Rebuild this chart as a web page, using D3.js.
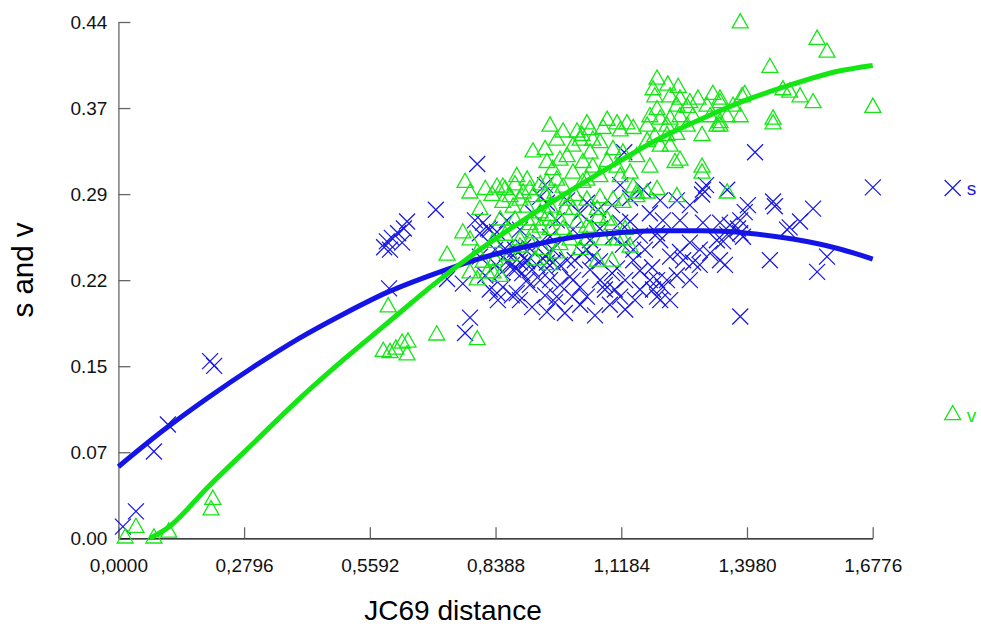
<!DOCTYPE html>
<html>
<head>
<meta charset="utf-8">
<script src="https://cdn.jsdelivr.net/npm/d3@7"></script>
<style>
  body { margin: 0; background: #fff; }
  text { font-family: Arial, "Liberation Sans", sans-serif; }
</style>
</head>
<body>
<svg id="drawing_region"></svg>
<script>
// s (synonymous) points: [JC69 distance, value]
const sPoints = [
  [0.010,0.010],[0.039,0.023],[0.079,0.074],[0.110,0.097],[0.204,0.151],[0.213,0.147],
  [0.591,0.248],[0.597,0.253],[0.608,0.256],[0.622,0.260],[0.635,0.264],[0.642,0.270],[0.631,0.252],[0.604,0.246],
  [0.706,0.280],[0.602,0.213],[0.798,0.319],[0.731,0.221],[0.766,0.217],[0.782,0.188],[0.771,0.175],
  [0.826,0.212],[0.842,0.209],[0.844,0.203],[0.855,0.214],[0.875,0.207],[0.886,0.209],[0.920,0.197],[0.953,0.193],
  [0.971,0.201],[0.975,0.206],[0.993,0.192],[1.009,0.206],[1.011,0.220],[1.027,0.214],[1.004,0.223],[0.960,0.220],
  [0.953,0.230],[0.966,0.235],[0.909,0.220],[0.878,0.229],[0.893,0.235],[0.864,0.236],[0.875,0.233],[0.886,0.230],
  [0.898,0.226],[0.909,0.236],[0.920,0.229],[0.931,0.233],[0.853,0.227],[0.840,0.233],[0.793,0.271],[0.811,0.269],
  [0.826,0.263],[0.804,0.260],[0.864,0.271],[0.938,0.291],[0.953,0.286],[0.922,0.277],[0.975,0.271],[1.011,0.263],
  [1.027,0.277],[1.033,0.243],[0.998,0.237],[0.909,0.237],[0.953,0.235],[0.966,0.246],[0.938,0.252],[0.900,0.248],
  [0.864,0.243],[1.042,0.286],[0.893,0.263],[0.960,0.257],[0.822,0.264],[0.842,0.261],[0.860,0.247],[0.804,0.240],
  [1.042,0.206],[1.082,0.216],[1.098,0.226],[1.109,0.230],[1.145,0.237],[1.187,0.231],[1.198,0.220],[1.198,0.206],
  [1.220,0.220],[1.242,0.224],[1.227,0.240],[1.256,0.237],[1.278,0.235],[1.249,0.244],[1.293,0.246],[1.316,0.243],
  [1.331,0.254],[1.300,0.269],[1.338,0.269],[1.383,0.271],[1.383,0.260],[1.389,0.257],[1.205,0.254],[1.198,0.260],
  [1.211,0.271],[1.182,0.277],[1.249,0.271],[1.138,0.270],[1.116,0.269],[1.100,0.257],[1.055,0.240],[1.042,0.246],
  [1.145,0.246],[1.383,0.189],[1.298,0.293],[1.242,0.288],[1.271,0.252],[1.049,0.254],[1.071,0.264],[1.071,0.236],
  [1.122,0.250],[1.160,0.258],[1.171,0.246],[1.067,0.280],[1.098,0.284],[1.138,0.290],[1.116,0.301],[1.167,0.297],
  [1.205,0.288],[1.271,0.284],[1.307,0.301],[1.354,0.297],[1.125,0.329],[0.998,0.288],[0.949,0.301],[1.082,0.212],
  [1.116,0.206],[1.149,0.203],[1.189,0.212],[1.211,0.214],[1.182,0.220],
  [0.882,0.246],[0.915,0.247],[0.949,0.241],[0.982,0.233],[1.015,0.237],[1.049,0.229],[1.071,0.220],[1.104,0.212],
  [1.127,0.220],[1.160,0.212],[0.938,0.220],[0.982,0.216],[0.949,0.207],[0.893,0.203],[1.027,0.199],[1.060,0.190],
  [1.093,0.199],[0.838,0.246],[0.816,0.224],[0.915,0.216],[1.160,0.228],[1.271,0.220],[1.293,0.233],[1.349,0.233],
  [1.205,0.203],[1.227,0.203],[1.127,0.195],
  [1.678,0.299],[1.456,0.287],[1.460,0.283],[1.545,0.281],[1.516,0.270],[1.487,0.263],[1.493,0.265],[1.360,0.267],
  [1.378,0.264],[1.354,0.259],[1.345,0.253],[1.449,0.237],[1.576,0.240],[1.554,0.227],[1.416,0.329],[1.400,0.284],
  [1.393,0.278],[1.338,0.237],[1.300,0.297]
];

// v (non-synonymous) points
const vPoints = [
  [0.015,0.000],[0.039,0.009],[0.079,0.000],[0.112,0.005],[0.210,0.033],[0.206,0.024],
  [0.589,0.159],[0.604,0.158],[0.617,0.161],[0.631,0.166],[0.644,0.167],[0.642,0.156],[0.708,0.173],[0.798,0.169],
  [0.600,0.197],[0.731,0.241],[0.766,0.260],[0.771,0.303],[0.782,0.294],
  [0.922,0.329],[0.953,0.320],[0.966,0.314],[0.886,0.308],[0.909,0.305],[0.842,0.299],[0.855,0.299],[0.871,0.291],
  [0.900,0.294],[0.922,0.291],[0.953,0.303],[0.975,0.305],[0.989,0.299],[1.011,0.311],[1.033,0.320],[0.998,0.325],
  [1.011,0.334],[0.989,0.346],[1.020,0.346],[0.960,0.351],[0.975,0.339],[1.027,0.339],[1.033,0.303],[0.998,0.288],
  [0.960,0.282],[0.938,0.277],[1.011,0.280],[0.922,0.271],[0.855,0.286],[0.878,0.282],[0.909,0.282],[0.938,0.265],
  [0.960,0.271],[0.982,0.271],[1.020,0.269],[1.042,0.265],[0.989,0.263],[0.922,0.260],[0.893,0.254],[0.833,0.252],
  [0.798,0.243],[0.811,0.235],[0.782,0.226],[0.798,0.220],[0.820,0.226],[0.833,0.226],[0.849,0.223],[0.893,0.248],
  [0.915,0.252],[0.944,0.246],[0.975,0.243],
  [0.816,0.297],[0.831,0.292],[0.860,0.297],[0.882,0.301],[0.893,0.288],[0.915,0.297],[0.938,0.301],[0.949,0.292],
  [0.971,0.294],[0.993,0.280],[1.015,0.292],[0.955,0.275],[0.915,0.267],[0.882,0.271],[0.849,0.271],[0.860,0.258],
  [0.960,0.263],[1.004,0.254],[1.027,0.246],[0.982,0.250],[1.049,0.263],[1.067,0.273],[1.098,0.267],[1.127,0.263],
  [1.138,0.248],[0.982,0.322],[0.949,0.331],[1.049,0.348],[0.804,0.280],[0.782,0.254],[0.838,0.237],[0.871,0.241],
  [0.927,0.237],[0.960,0.233],
  [1.198,0.391],[1.189,0.382],[1.222,0.386],[1.245,0.384],[1.227,0.376],[1.193,0.376],[1.249,0.374],[1.289,0.374],
  [1.322,0.378],[1.338,0.371],[1.309,0.368],[1.271,0.371],[1.265,0.367],[1.242,0.368],[1.198,0.365],[1.182,0.359],
  [1.205,0.357],[1.227,0.357],[1.249,0.359],[1.278,0.359],[1.316,0.359],[1.338,0.354],[1.331,0.351],[1.298,0.343],
  [1.265,0.351],[1.220,0.351],[1.176,0.351],[1.131,0.353],[1.109,0.353],[1.087,0.356],[1.078,0.349],[1.042,0.353],
  [1.031,0.343],[1.055,0.339],[1.116,0.347],[1.145,0.349],[1.193,0.342],[1.220,0.343],[1.242,0.344],[1.176,0.338],
  [1.205,0.334],[1.227,0.334],[1.249,0.322],[1.238,0.320],[1.182,0.316],[1.153,0.325],[1.122,0.328],[1.100,0.331],
  [1.071,0.337],[1.049,0.328],[1.055,0.316],[1.087,0.321],[1.109,0.316],[1.138,0.311],[1.116,0.308],[1.071,0.308],
  [1.042,0.305],[1.145,0.299],[1.176,0.294],[1.153,0.294],[1.242,0.291],[1.298,0.316],[1.298,0.311],[1.354,0.294],
  [1.071,0.290],[1.042,0.288],[1.100,0.288],[1.122,0.286],[1.065,0.280],[1.087,0.271],[1.109,0.254],[1.065,0.236],
  [1.122,0.254],[1.153,0.291],[1.198,0.297],[1.042,0.254],[1.078,0.254],[1.098,0.236],
  [1.383,0.439],[1.554,0.425],[1.576,0.414],[1.449,0.401],[1.478,0.382],[1.493,0.380],[1.516,0.376],[1.545,0.371],
  [1.678,0.367],[1.456,0.357],[1.456,0.353],[1.387,0.376],[1.393,0.378],[1.367,0.368],[1.383,0.359],[1.354,0.359],
  [1.338,0.351],[1.338,0.374]
];

// fitted curves
const sFitX = [0, 0.1, 0.2, 0.3, 0.4, 0.5, 0.6, 0.7, 0.8, 0.9, 1.0, 1.1, 1.2, 1.3, 1.4, 1.5, 1.6, 1.6776];
const sFitY = [0.061, 0.092, 0.120, 0.146, 0.170, 0.191, 0.210, 0.225, 0.238, 0.248, 0.256, 0.260, 0.262, 0.262, 0.260, 0.255, 0.247, 0.238];
const vFitX = [0.07, 0.11, 0.2, 0.3, 0.4, 0.5, 0.6, 0.7, 0.8, 0.9, 1.0, 1.1, 1.2, 1.3, 1.4, 1.5, 1.6, 1.6776];
const vFitY = [0.000, 0.009, 0.044, 0.081, 0.118, 0.152, 0.184, 0.216, 0.245, 0.271, 0.295, 0.318, 0.340, 0.358, 0.374, 0.387, 0.398, 0.403];

const xTicks = [0, 0.2796, 0.5592, 0.8388, 1.1184, 1.3980, 1.6776];
const yTicks = [0, 0.44/6, 0.88/6, 0.22, 1.76/6, 2.2/6, 0.44];

const seriesNames = ['s', 'v'];
const colors = { s: '#1414e6', v: '#14e614' };

const width = 981, height = 627;
const svg = d3.select('#drawing_region')
    .attr('width', width)
    .attr('height', height);

const x = d3.scaleLinear().domain([0, 1.6776]).range([118.4, 872.7]);
const y = d3.scaleLinear().domain([0, 0.44]).range([538.3, 22]);

const crossPath = 'M-8,-8L8,8M-8,8L8,-8';
const triPath = 'M0,-9.5L8,4.7L-8,4.7Z';

// axes
const xAxis = svg.append('g')
    .attr('transform', `translate(0,${y(0)})`)
    .call(d3.axisBottom(x).tickValues(xTicks).tickSizeInner(-11).tickSizeOuter(0)
        .tickFormat(d => d3.format('.4f')(d).replace('.', ',')));
xAxis.select('.domain').attr('stroke', '#000').attr('stroke-width', 1.3);
xAxis.selectAll('.tick line').attr('stroke', '#666').attr('stroke-width', 1.3);
xAxis.selectAll('.tick text').attr('y', 20).attr('dy', '0.71em')
    .attr('font-size', 19).attr('fill', '#111');

const yAxis = svg.append('g')
    .attr('transform', `translate(${x(0)},0)`)
    .call(d3.axisLeft(y).tickValues(yTicks).tickSizeInner(-12).tickSizeOuter(0)
        .tickFormat(d3.format('.2f')));
yAxis.select('.domain').attr('stroke', '#666').attr('stroke-width', 1.3);
yAxis.selectAll('.tick line').attr('stroke', '#666').attr('stroke-width', 1.3);
yAxis.selectAll('.tick text').attr('x', -11)
    .attr('font-size', 19).attr('fill', '#111');
xAxis.raise();

// axis titles
svg.append('text')
    .attr('x', 453).attr('y', 620)
    .attr('text-anchor', 'middle')
    .attr('font-size', 28)
    .text('JC69 distance');
svg.append('text')
    .attr('transform', 'translate(33,270) rotate(-90)')
    .attr('text-anchor', 'middle')
    .attr('font-size', 29.5)
    .text('s and v');

// points
svg.append('g').selectAll('path')
    .data(sPoints)
    .enter()
    .append('path')
    .attr('d', crossPath)
    .attr('transform', d => `translate(${x(d[0])},${y(d[1])})`)
    .attr('fill', 'none')
    .attr('stroke', colors.s)
    .attr('stroke-width', 1.2);

svg.append('g').selectAll('path')
    .data(vPoints)
    .enter()
    .append('path')
    .attr('d', triPath)
    .attr('transform', d => `translate(${x(d[0])},${y(d[1])})`)
    .attr('fill', 'none')
    .attr('stroke', colors.v)
    .attr('stroke-width', 1.3);

// fitted curves
const line = d3.line()
    .x(d => x(d[0]))
    .y(d => y(d[1]))
    .curve(d3.curveMonotoneX);

svg.append('path')
    .datum(d3.zip(sFitX, sFitY))
    .attr('d', line)
    .attr('fill', 'none')
    .attr('stroke', colors.s)
    .attr('stroke-width', 5);

svg.append('path')
    .datum(d3.zip(vFitX, vFitY))
    .attr('d', line)
    .attr('fill', 'none')
    .attr('stroke', colors.v)
    .attr('stroke-width', 5);

// legend
const legendY = { s: 188, v: 415 };
seriesNames.forEach(name => {
    const g = svg.append('g').attr('transform', `translate(952.7,${legendY[name]})`);
    g.append('path')
        .attr('d', name === 's' ? crossPath : triPath)
        .attr('fill', 'none')
        .attr('stroke', colors[name])
        .attr('stroke-width', name === 's' ? 1.2 : 1.3);
    g.append('text')
        .attr('x', 14).attr('dy', '0.35em')
        .attr('font-size', 19)
        .attr('fill', colors[name])
        .text(name);
});
</script>
</body>
</html>
